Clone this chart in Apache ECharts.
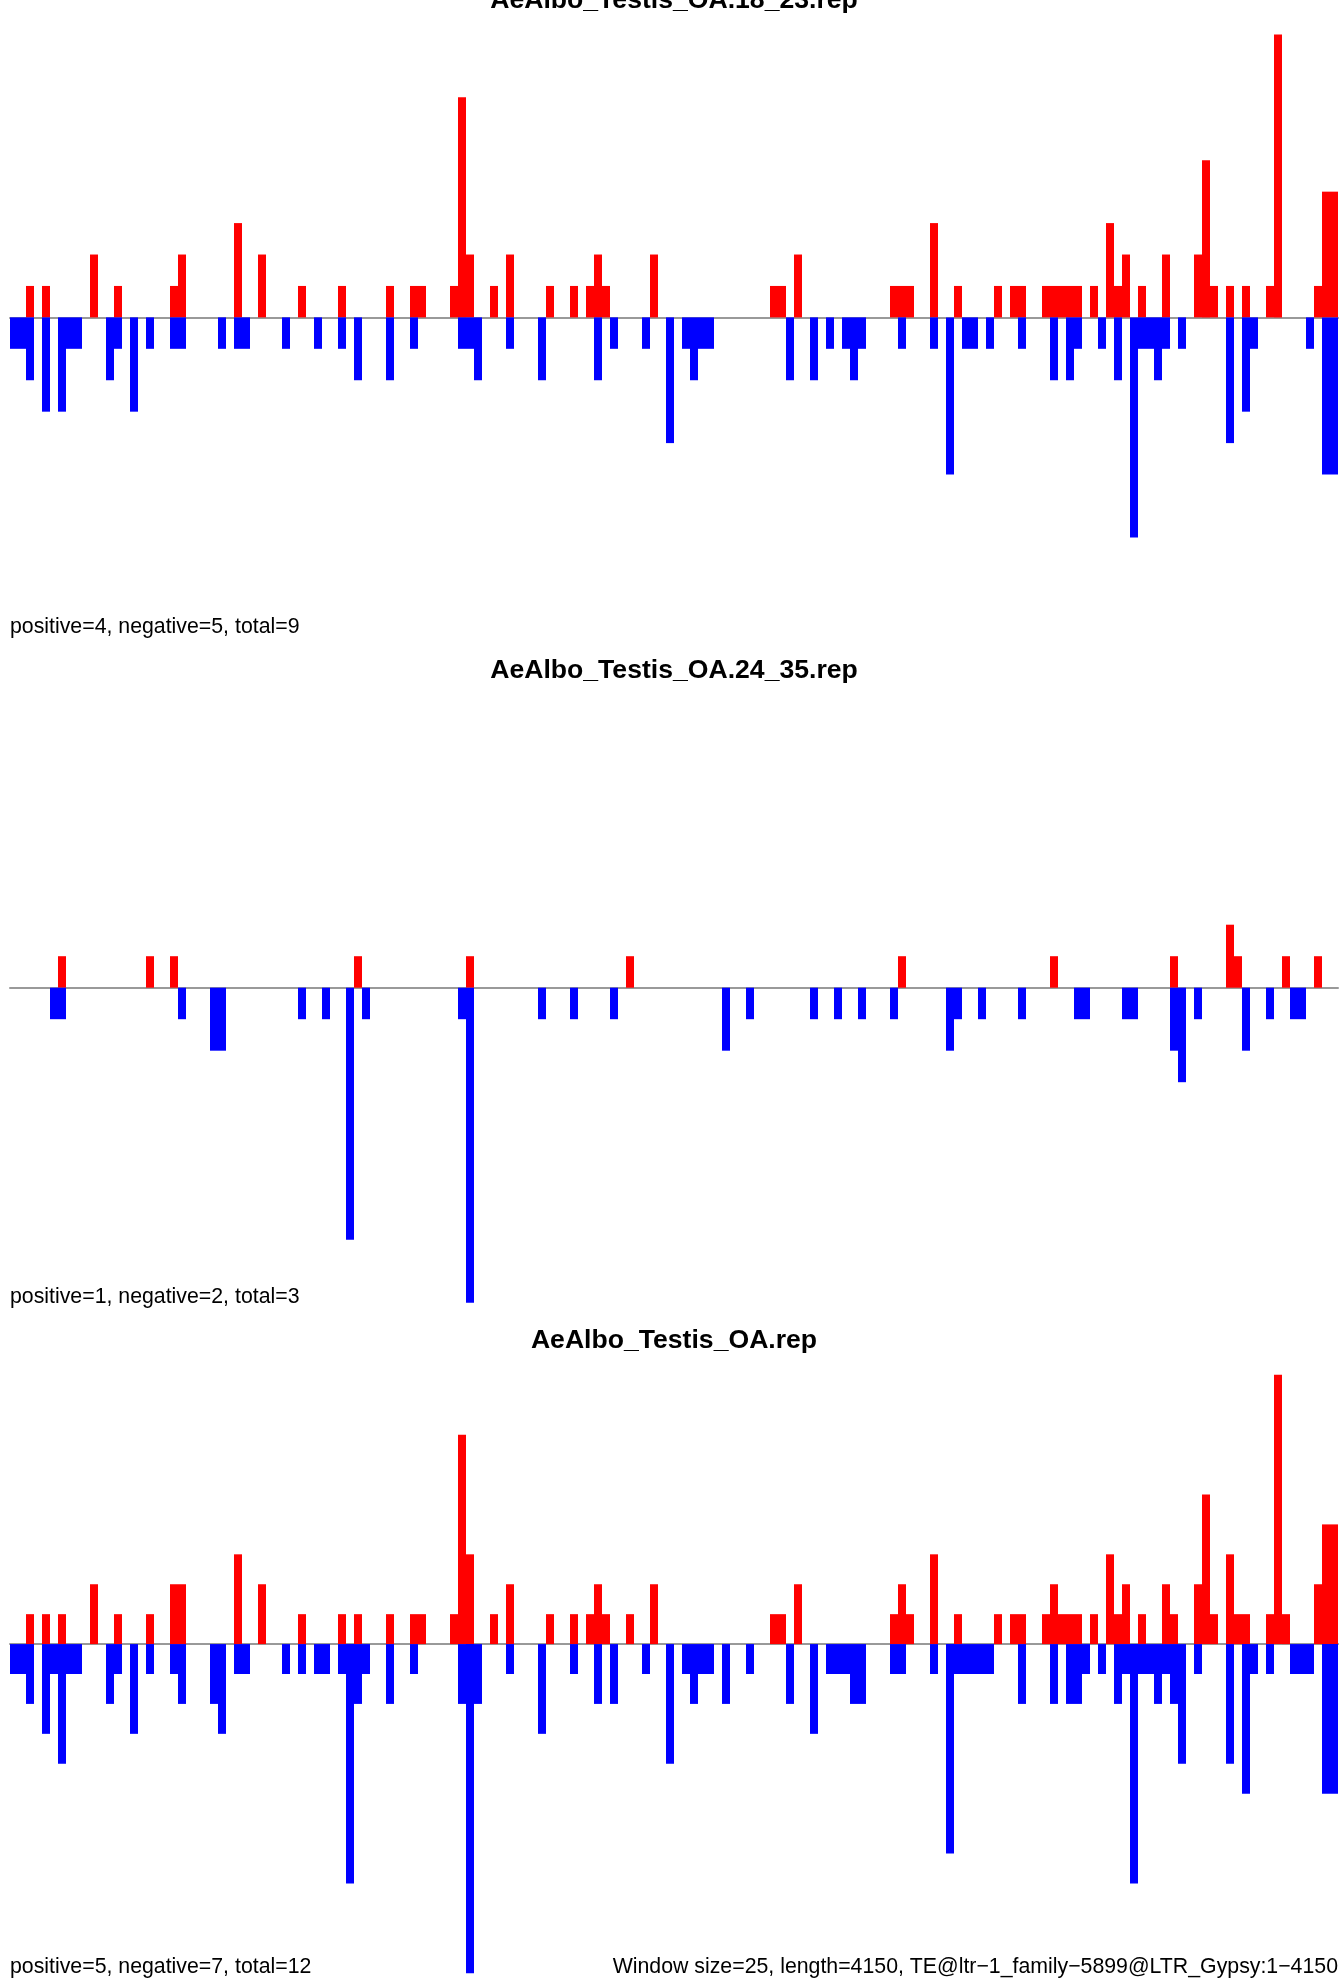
<!DOCTYPE html>
<html>
<head>
<meta charset="utf-8">
<script src="https://cdn.jsdelivr.net/npm/echarts@6/dist/echarts.min.js"></script>
<style>
html,body{margin:0;padding:0;background:#ffffff;}
#chart{width:1342px;height:1979px;}
</style>
</head>
<body>
<div id="chart"></div>
<script>
// ---------- text ----------
const titles = [
  "AeAlbo_Testis_OA.18_23.rep",
  "AeAlbo_Testis_OA.24_35.rep",
  "AeAlbo_Testis_OA.rep"
];
const summaries = [
  "positive=4, negative=5, total=9",
  "positive=1, negative=2, total=3",
  "positive=5, negative=7, total=12"
];
const footer = "Window size=25, length=4150, TE@ltr\u22121_family\u22125899@LTR_Gypsy:1\u22124150";

// ---------- windows (166 windows of 25 nt over 4150 nt) ----------
const windowSize = 25;
const windows = [];
for (let i = 0; i < 166; i++) windows.push(String(i * windowSize + 1));

// ---------- panel 1: AeAlbo_Testis_OA.18_23.rep ----------
const p1Pos = [
  0,0,1,0,1,0,0,0,0,0,
  2,0,0,1,0,0,0,0,0,0,
  1,2,0,0,0,0,0,0,3,0,
  0,2,0,0,0,0,1,0,0,0,
  0,1,0,0,0,0,0,1,0,0,
  1,1,0,0,0,1,7,2,0,0,
  1,0,2,0,0,0,0,1,0,0,
  1,0,1,2,1,0,0,0,0,0,
  2,0,0,0,0,0,0,0,0,0,
  0,0,0,0,0,1,1,0,2,0,
  0,0,0,0,0,0,0,0,0,0,
  1,1,1,0,0,3,0,0,1,0,
  0,0,0,1,0,1,1,0,0,1,
  1,1,1,1,0,1,0,3,1,2,
  0,1,0,0,2,0,0,0,2,5,
  1,0,1,0,1,0,0,1,9,0,
  0,0,0,1,4,4
];
const p1Neg = [
  1,1,2,0,3,0,3,1,1,0,
  0,0,2,1,0,3,0,1,0,0,
  1,1,0,0,0,0,1,0,1,1,
  0,0,0,0,1,0,0,0,1,0,
  0,1,0,2,0,0,0,2,0,0,
  1,0,0,0,0,0,1,1,2,0,
  0,0,1,0,0,0,2,0,0,0,
  0,0,0,2,0,1,0,0,0,1,
  0,0,4,0,1,2,1,1,0,0,
  0,0,0,0,0,0,0,2,0,0,
  2,0,1,0,1,2,1,0,0,0,
  0,1,0,0,0,1,0,5,0,1,
  1,0,1,0,0,0,1,0,0,0,
  2,0,2,1,0,0,1,0,2,0,
  7,1,1,2,1,0,1,0,0,0,
  0,0,4,0,3,1,0,0,0,0,
  0,0,1,0,5,5
];

// ---------- panel 2: AeAlbo_Testis_OA.24_35.rep ----------
const p2Pos = [
  0,0,0,0,0,0,1,0,0,0,
  0,0,0,0,0,0,0,1,0,0,
  1,0,0,0,0,0,0,0,0,0,
  0,0,0,0,0,0,0,0,0,0,
  0,0,0,1,0,0,0,0,0,0,
  0,0,0,0,0,0,0,1,0,0,
  0,0,0,0,0,0,0,0,0,0,
  0,0,0,0,0,0,0,1,0,0,
  0,0,0,0,0,0,0,0,0,0,
  0,0,0,0,0,0,0,0,0,0,
  0,0,0,0,0,0,0,0,0,0,
  0,1,0,0,0,0,0,0,0,0,
  0,0,0,0,0,0,0,0,0,0,
  1,0,0,0,0,0,0,0,0,0,
  0,0,0,0,0,1,0,0,0,0,
  0,0,2,1,0,0,0,0,0,1,
  0,0,0,1,0,0
];
const p2Neg = [
  0,0,0,0,0,1,1,0,0,0,
  0,0,0,0,0,0,0,0,0,0,
  0,1,0,0,0,2,2,0,0,0,
  0,0,0,0,0,0,1,0,0,1,
  0,0,8,0,1,0,0,0,0,0,
  0,0,0,0,0,0,1,10,0,0,
  0,0,0,0,0,0,1,0,0,0,
  1,0,0,0,0,1,0,0,0,0,
  0,0,0,0,0,0,0,0,0,2,
  0,0,1,0,0,0,0,0,0,0,
  1,0,0,1,0,0,1,0,0,0,
  1,0,0,0,0,0,0,2,1,0,
  0,1,0,0,0,0,1,0,0,0,
  0,0,0,1,1,0,0,0,0,1,
  1,0,0,0,0,2,3,0,1,0,
  0,0,0,0,2,0,0,1,0,0,
  1,1,0,0,0,0
];

// ---------- panel 3: AeAlbo_Testis_OA.rep ----------
const p3Pos = [
  0,0,1,0,1,0,1,0,0,0,
  2,0,0,1,0,0,0,1,0,0,
  2,2,0,0,0,0,0,0,3,0,
  0,2,0,0,0,0,1,0,0,0,
  0,1,0,1,0,0,0,1,0,0,
  1,1,0,0,0,1,7,3,0,0,
  1,0,2,0,0,0,0,1,0,0,
  1,0,1,2,1,0,0,1,0,0,
  2,0,0,0,0,0,0,0,0,0,
  0,0,0,0,0,1,1,0,2,0,
  0,0,0,0,0,0,0,0,0,0,
  1,2,1,0,0,3,0,0,1,0,
  0,0,0,1,0,1,1,0,0,1,
  2,1,1,1,0,1,0,3,1,2,
  0,1,0,0,2,1,0,0,2,5,
  1,0,3,1,1,0,0,1,9,1,
  0,0,0,2,4,4
];
const p3Neg = [
  1,1,2,0,3,1,4,1,1,0,
  0,0,2,1,0,3,0,1,0,0,
  1,2,0,0,0,2,3,0,1,1,
  0,0,0,0,1,0,1,0,1,1,
  0,1,8,2,1,0,0,2,0,0,
  1,0,0,0,0,0,2,11,2,0,
  0,0,1,0,0,0,3,0,0,0,
  1,0,0,2,0,2,0,0,0,1,
  0,0,4,0,1,2,1,1,0,2,
  0,0,1,0,0,0,0,2,0,0,
  3,0,1,1,1,2,2,0,0,0,
  1,1,0,0,0,1,0,7,1,1,
  1,1,1,0,0,0,2,0,0,0,
  2,0,2,2,1,0,1,0,2,1,
  8,1,1,2,1,2,4,0,1,0,
  0,0,4,0,5,1,0,1,0,0,
  1,1,1,0,5,5
];

// ---------- layout (pixels) ----------
const plotLeft = 10, plotWidth = 1328;
const panels = [
  { pos: p1Pos, neg: p1Neg, min: -7,  max: 9, top: 34.5,   height: 502.9, titleY: 0.5,    sumY: 627 },
  { pos: p2Pos, neg: p2Neg, min: -10, max: 2, top: 924.7,  height: 378,   titleY: 671,    sumY: 1297 },
  { pos: p3Pos, neg: p3Neg, min: -11, max: 9, top: 1374.8, height: 598.4, titleY: 1340.5, sumY: 1967 }
];

const fontFamily = '"Liberation Sans", Arial, Helvetica, sans-serif';
const titleFont = 'bold 26.6px ' + fontFamily;
const textFont = '21.3px ' + fontFamily;

const grid = [], xAxis = [], yAxis = [], series = [], graphic = [];
panels.forEach((p, i) => {
  grid.push({ left: plotLeft, width: plotWidth, top: p.top, height: p.height, containLabel: false });
  xAxis.push({
    type: 'category', gridIndex: i, data: windows, boundaryGap: true,
    axisLine: { show: true, onZero: true, lineStyle: { color: '#999999', width: 2 } },
    axisTick: { show: false }, axisLabel: { show: false }, splitLine: { show: false }
  });
  yAxis.push({
    type: 'value', gridIndex: i, min: p.min, max: p.max, show: false,
    splitLine: { show: false }
  });
  series.push({
    type: 'bar', xAxisIndex: i, yAxisIndex: i, data: p.pos,
    barWidth: '100%', barGap: '-100%', barCategoryGap: '0%',
    itemStyle: { color: '#ff0000' }, silent: true, z: 3
  });
  series.push({
    type: 'bar', xAxisIndex: i, yAxisIndex: i, data: p.neg.map(v => -v),
    barWidth: '100%', barGap: '-100%', barCategoryGap: '0%',
    itemStyle: { color: '#0000ff' }, silent: true, z: 3
  });
  graphic.push({
    type: 'text', x: plotLeft + plotWidth / 2, y: p.titleY,
    style: { text: titles[i], font: titleFont, fill: '#000000',
             textAlign: 'center', textVerticalAlign: 'middle' }
  });
  graphic.push({
    type: 'text', x: plotLeft, y: p.sumY,
    style: { text: summaries[i], font: textFont, fill: '#000000',
             textAlign: 'left', textVerticalAlign: 'middle' }
  });
});
graphic.push({
  type: 'text', x: plotLeft + plotWidth, y: panels[2].sumY,
  style: { text: footer, font: textFont, fill: '#000000',
           textAlign: 'right', textVerticalAlign: 'middle' }
});

const chart = echarts.init(document.getElementById('chart'), null, { renderer: 'canvas' });
chart.setOption({
  animation: false,
  backgroundColor: '#ffffff',
  grid, xAxis, yAxis, series, graphic
});
</script>
</body>
</html>
